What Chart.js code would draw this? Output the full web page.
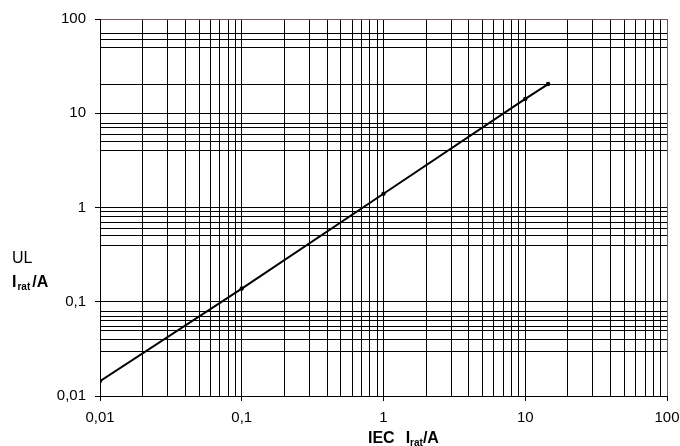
<!DOCTYPE html>
<html>
<head>
<meta charset="utf-8">
<script src="https://cdn.jsdelivr.net/npm/chart.js@4/dist/chart.umd.min.js"></script>
<style>
  html, body { margin: 0; padding: 0; background: #fff; }
  #wrap { width: 680px; height: 446px; position: relative; }
</style>
</head>
<body>
<div id="wrap"><canvas id="chart"></canvas></div>
<script>
"use strict";

// IEC rating (x) vs UL rating (y)
const iecValues = [0.01, 0.1, 1, 10, 14.5];
const ulValues = [0.0144, 0.138, 1.4, 14.2, 20.4];

// grid lines of the log axes
const xGridValues = [0.01, 0.02, 0.03, 0.04, 0.05, 0.06, 0.07, 0.08, 0.09,
    0.1, 0.2, 0.3, 0.4, 0.5, 0.6, 0.7, 0.8, 0.9,
    1, 2, 3, 4, 5, 6, 7, 8, 9,
    10, 20, 30, 40, 50, 60, 70, 80, 90, 100];
const yGridValues = [0.01, 0.03, 0.04, 0.049, 0.055, 0.063, 0.07, 0.078,
    0.1, 0.4, 0.5, 0.6, 0.7, 0.8, 0.9,
    1, 4, 5, 6, 7, 7.7,
    10, 20, 50, 60, 70, 100];
const decadeValues = [0.01, 0.1, 1, 10, 100];
const decadeLabels = ['0,01', '0,1', '1', '10', '100'];

const FONT = "'Liberation Sans', Arial, sans-serif";

function labelFor(v) {
    const i = decadeValues.findIndex(d => Math.abs(d - v) / d < 1e-6);
    return i >= 0 ? decadeLabels[i] : '';
}
function isDecade(v) {
    return labelFor(v) !== '';
}

// horizontal axis titles with subscript
const titlePlugin = {
    id: 'axisTitles',
    afterDraw(chart) {
        const c = chart.ctx;
        c.save();
        c.fillStyle = '#000';
        c.textBaseline = 'alphabetic';
        c.textAlign = 'left';

        c.font = '16px ' + FONT;
        c.fillText('UL', 12, 263);

        let x = 12;
        c.font = 'bold 16px ' + FONT;
        c.fillText('I', x, 287);
        x += c.measureText('I').width + 1;
        c.font = 'bold 10px ' + FONT;
        c.fillText('rat', x, 290);
        x += c.measureText('rat').width + 2;
        c.font = 'bold 16px ' + FONT;
        c.fillText('/A', x, 287);

        x = 368;
        c.font = 'bold 16px ' + FONT;
        c.fillText('IEC', x, 443);
        x += c.measureText('IEC').width + 11;
        c.fillText('I', x, 443);
        x += c.measureText('I').width;
        c.font = 'bold 10px ' + FONT;
        c.fillText('rat', x, 446);
        x += c.measureText('rat').width;
        c.font = 'bold 16px ' + FONT;
        c.fillText('/A', x, 443);
        c.restore();
    }
};

const ctx = document.getElementById('chart').getContext('2d');
new Chart(ctx, {
    type: 'line',
    data: {
        datasets: [{
            data: iecValues.map((v, i) => ({ x: v, y: ulValues[i] })),
            borderColor: '#000',
            backgroundColor: '#000',
            borderWidth: 2,
            pointRadius: 1.2,
            pointHoverRadius: 1.2,
            tension: 0,
            fill: false
        }]
    },
    options: {
        responsive: true,
        maintainAspectRatio: false,
        animation: false,
        events: [],
        layout: { padding: { top: 19, right: 13, left: 0, bottom: 0 } },
        plugins: {
            legend: { display: false },
            tooltip: { enabled: false }
        },
        scales: {
            x: {
                type: 'logarithmic',
                min: 0.01,
                max: 100,
                afterBuildTicks(scale) {
                    scale.ticks = xGridValues.map(v => ({ value: v }));
                },
                afterFit(scale) {
                    scale.height = 50;
                    scale.paddingLeft = 0;
                    scale.paddingRight = 0;
                },
                ticks: {
                    autoSkip: false,
                    maxRotation: 0,
                    padding: 8,
                    color: '#000',
                    font: { family: FONT, size: 15 },
                    callback: (v) => labelFor(v)
                },
                grid: {
                    color: (c) => (c.tick && c.tick.value === 100) ? '#6e5a5a' : '#000',
                    lineWidth: 1,
                    tickLength: 5,
                    tickColor: (c) => (c.tick && isDecade(c.tick.value)) ? '#000' : 'rgba(0,0,0,0)'
                },
                border: { color: '#000', width: 1 }
            },
            y: {
                type: 'logarithmic',
                min: 0.01,
                max: 100,
                afterBuildTicks(scale) {
                    scale.ticks = yGridValues.map(v => ({ value: v }));
                },
                afterFit(scale) {
                    scale.width = 100;
                    scale.paddingTop = 0;
                    scale.paddingBottom = 0;
                },
                ticks: {
                    autoSkip: false,
                    padding: 9,
                    color: '#000',
                    font: { family: FONT, size: 15 },
                    callback: (v) => labelFor(v)
                },
                grid: {
                    color: (c) => (c.tick && c.tick.value === 100) ? '#6e5a5a' : '#000',
                    lineWidth: 1,
                    tickLength: 5,
                    tickColor: (c) => (c.tick && isDecade(c.tick.value)) ? '#000' : 'rgba(0,0,0,0)'
                },
                border: { color: '#000', width: 1 }
            }
        }
    },
    plugins: [titlePlugin]
});
</script>
</body>
</html>
